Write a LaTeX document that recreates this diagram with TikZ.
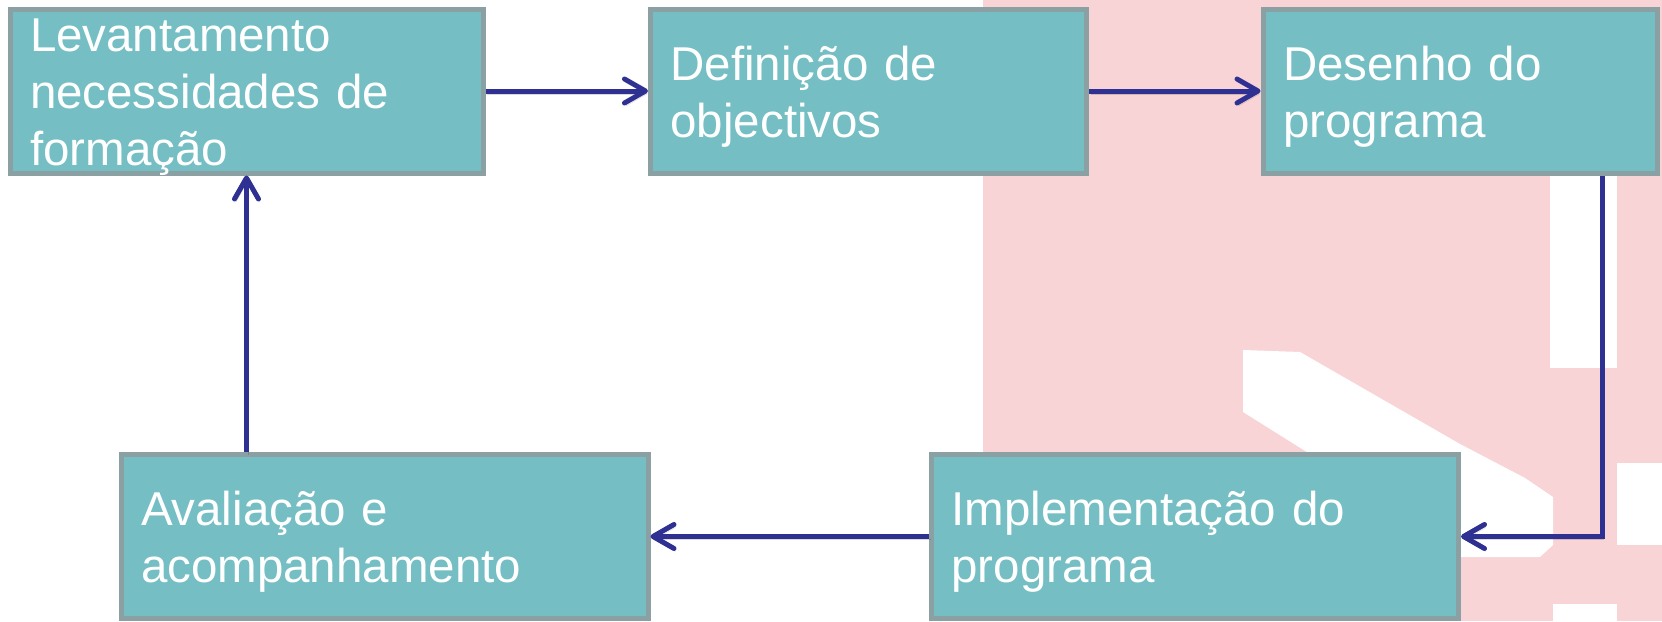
\documentclass[tikz,border=0pt]{standalone}
\usepackage{fontspec}
\setmainfont{Liberation Sans}
\usepackage{tikz}
\usetikzlibrary{
        arrows.meta,
        positioning
    }
\definecolor{boxfill}{RGB}{116,190,196}
\definecolor{boxline}{RGB}{138,160,163}
\definecolor{flowblue}{RGB}{46,49,146}
\definecolor{bgpink}{RGB}{248,212,214}
\tikzset{>={Straight Barb[length=21pt,width=24pt,round]},node distance=160pt}
\tikzset{stage/.style={rectangle,draw=boxline,fill=boxfill,line width=5pt,
        text=white,align=left,text width=#1,inner xsep=20pt,inner ysep=0pt,
        text height=35pt,text depth=57pt,minimum height=164pt,
        font=\fontsize{47.5pt}{57pt}\selectfont}}
\tikzset{flow/.style={->,draw=flowblue,line width=5pt,
        preaction={draw=black,opacity=0.15,transform canvas={shift={(1.5pt,-3pt)}}}}}

\begin{document}
\begin{tikzpicture}[x=1pt,y=-1pt]
    		\useasboundingbox (0,0) rectangle (1662,621);
    		% pink backdrop
    		\fill[bgpink] (983,0) rectangle (1662,621);
    		\fill[white] (1550,175) rectangle (1617,368);
    		\fill[white] (1243,350) -- (1300,352) -- (1460,444) -- (1525,478) -- (1553,497)
    		    -- (1553,545) -- (1540,557) -- (1460,557) -- (1310,454) -- (1243,412) -- cycle;
    		\fill[white] (1617,463) rectangle (1662,545);
    		\fill[white] (1553,604) rectangle (1617,621);

    		\node[stage=433pt,text depth=114pt] (levant) at (246.5,91) {Levantamento\\necessidades de\\formação};
    		\node[stage=396pt] (objectivos) [right=162.5pt of levant] {Definição de\\objectivos};
    		\node[stage=354pt] (desenho) [right=171.5pt of objectivos] {Desenho do\\programa};
    		\node[stage=487pt] (avaliacao) at (384.5,536.5) {Avaliação e\\acompanhamento};
    		\node[stage=487pt] (implementacao) [right=278.5pt of avaliacao] {Implementação do\\programa};

    		\coordinate (turn) at (1602,538);
    		\draw[flow] (levant) -- (objectivos);
    		\draw[flow] (objectivos) -- (desenho);
    		\draw[flow] (desenho.south -| turn) |- (implementacao.east);
    		\draw[flow] (implementacao) -- (avaliacao);
    		\draw[flow] (avaliacao.north -| levant) -- (levant.south);
        \end{tikzpicture}
\end{document}
